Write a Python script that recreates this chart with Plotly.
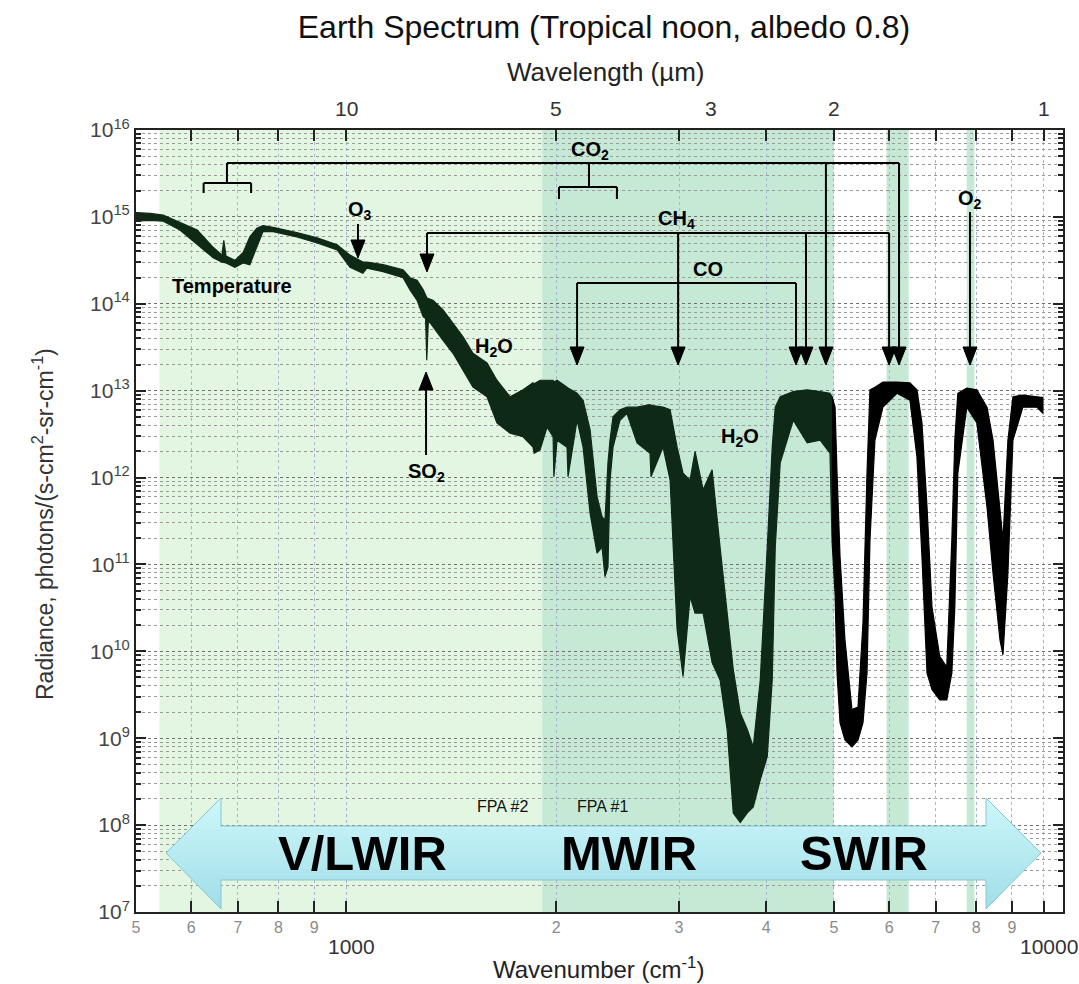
import numpy as np
import plotly.graph_objects as go

# ---------------------------------------------------------------------------
# Radiance trace, stored as an envelope (upper / lower edge of the dense
# line-by-line spectrum), log10 of photons/(s cm^2 sr cm^-1)
# ---------------------------------------------------------------------------
wavenumber = [
    500, 524, 547, 578, 612, 645, 664, 668, 673, 693, 712, 728, 745, 760, 786,
    850, 909, 971, 1013, 1057, 1071, 1130, 1207, 1235, 1264, 1290, 1300, 1305,
    1312, 1332, 1377, 1423, 1471, 1520, 1592, 1645, 1718, 1793, 1853, 1860,
    1897, 1941, 1980, 1985, 2006, 2073, 2080, 2143, 2186, 2237, 2289, 2327,
    2350, 2373, 2389, 2413, 2469, 2526, 2612, 2726, 2735, 2846, 2913, 2981,
    3040, 3111, 3163, 3248, 3346, 3435, 3516, 3588, 3672, 3758, 3833, 3922,
    4014, 4080, 4121, 4189, 4373, 4579, 4779, 4937, 4970,
    5020, 5053, 5103, 5187, 5308, 5415, 5505, 5578, 5633, 5726, 5879, 6158,
    6427, 6577, 6687, 6800, 6912, 7092, 7258, 7380, 7453, 7527, 7754, 8014,
    8288, 8454, 8651, 8737, 8880, 9028, 9330, 9770, 9966,
]
upper_log10 = [
    15.05, 15.04, 15.02, 14.94, 14.85, 14.65, 14.56, 14.73, 14.55, 14.50, 14.59,
    14.77, 14.87, 14.90, 14.88, 14.82, 14.76, 14.68, 14.56, 14.48, 14.48, 14.45,
    14.39, 14.30, 14.27, 14.16, 14.10, 14.07, 14.06, 14.04, 13.93, 13.78, 13.62,
    13.43, 13.32, 13.12, 12.93, 13.01, 13.09, 13.08, 13.12, 13.12, 13.12, 13.10,
    13.12, 13.04, 13.03, 12.97, 12.89, 12.55, 11.78, 11.55, 11.51, 12.17, 12.43,
    12.70, 12.78, 12.81, 12.81, 12.84, 12.83, 12.81, 12.78, 12.35, 12.05, 11.97,
    12.30, 11.86, 12.09, 11.20, 10.44, 9.79, 9.29, 9.10, 8.90, 9.67, 11.20,
    12.35, 12.81, 12.93, 12.99, 13.01, 12.99, 12.97, 12.93,
    12.81, 12.05, 11.09, 10.13, 9.33, 9.36, 10.33, 12.05, 13.01, 13.04, 13.10,
    13.10, 13.09, 13.01, 12.63, 11.66, 10.51, 9.94, 9.82, 11.28, 12.43, 12.97,
    13.03, 13.01, 12.81, 12.43, 11.66, 11.28, 12.43, 12.93, 12.95, 12.93, 12.92,
]
lower_log10 = [
    14.95, 14.96, 14.95, 14.85, 14.68, 14.53, 14.48, 14.48, 14.47, 14.42, 14.47,
    14.45, 14.65, 14.83, 14.83, 14.77, 14.70, 14.62, 14.42, 14.35, 14.41, 14.37,
    14.30, 14.16, 14.04, 13.85, 13.83, 13.35, 13.81, 13.73, 13.58, 13.43, 13.24,
    13.04, 12.93, 12.63, 12.51, 12.47, 12.35, 12.28, 12.32, 12.58, 12.47, 12.01,
    12.43, 12.35, 12.01, 12.66, 12.35, 11.59, 11.13, 11.20, 10.86, 10.97, 11.97,
    12.35, 12.66, 12.74, 12.40, 12.28, 12.01, 12.35, 11.97, 10.25, 9.71, 10.63,
    10.44, 10.44, 9.87, 9.67, 9.10, 8.14, 8.03, 8.14, 8.21, 8.52, 8.79,
    9.67, 11.20, 12.17, 12.66, 12.40, 12.43, 12.28, 11.28,
    10.67, 9.75, 9.18, 8.98, 8.90, 8.98, 9.18, 9.75, 11.28, 12.43, 12.81,
    12.97, 12.89, 12.24, 11.09, 9.75, 9.56, 9.44, 9.44, 9.75, 10.51, 12.05,
    12.81, 12.63, 11.66, 10.90, 10.13, 9.96, 10.90, 12.43, 12.81, 12.81, 12.74,
]

# trace is drawn dark green inside the infrared FPA bands, black beyond
colour_switch_wn = 4970

# shaded detector bands (cm^-1)
band_lwir = (540, 1910)
band_mwir = (1910, 5000)
band_swir_a = (5950, 6400)
band_swir_b = (7750, 7950)

# axis ticks
x_tick_vals = [500, 600, 700, 800, 900, 2000, 3000, 4000, 5000,
               6000, 7000, 8000, 9000]
x_tick_text = ["5", "6", "7", "8", "9", "2", "3", "4", "5",
               "6", "7", "8", "9"]
x_decade_labels = [1000, 10000]
wavelength_ticks_um = [10, 5, 3, 2, 1]
y_exponents = list(range(7, 17))

# ---------------------------------------------------------------------------
W, H = 1079, 984
M_L, M_R, M_T, M_B = 136, 16, 130, 72
PLOT_W, PLOT_H = W - M_L - M_R, H - M_T - M_B
X_LO, X_HI = np.log10(500), np.log10(10650)


def px_x(px):
    """canvas column -> paper x"""
    return (px - M_L) / PLOT_W


def px_y(py):
    """canvas row -> paper y"""
    return (H - M_B - py) / PLOT_H


def wn_paper(w):
    """wavenumber -> paper x on the log axis"""
    return (np.log10(w) - X_LO) / (X_HI - X_LO)


FONT = "Arial, Liberation Sans, Helvetica, sans-serif"
DARK_GREEN = "#0e2a17"

fig = go.Figure()


def add_envelope(idx, colour):
    xs = [wavenumber[i] for i in idx]
    up = [10 ** upper_log10[i] for i in idx]
    lo = [10 ** lower_log10[i] for i in idx]
    fig.add_trace(go.Scatter(
        x=xs + xs[::-1], y=up + lo[::-1], mode="lines", fill="toself",
        fillcolor=colour, line=dict(color=colour, width=1.2),
        hoverinfo="skip", showlegend=False))


ir_idx = [i for i, w in enumerate(wavenumber) if w <= colour_switch_wn]
sw_idx = [i for i, w in enumerate(wavenumber) if w >= colour_switch_wn]
add_envelope(ir_idx, DARK_GREEN)
add_envelope(sw_idx, "#000000")

shapes = []
# detector band shading
for (a, b), col in [(band_lwir, "#e3f6e1"), (band_mwir, "#c5e9d5"),
                    (band_swir_a, "#c5e9d5"), (band_swir_b, "#c5e9d5")]:
    shapes.append(dict(type="rect", xref="x", yref="paper", x0=a, x1=b,
                       y0=0, y1=1, fillcolor=col, line=dict(width=0),
                       layer="below"))


def hline(w0, w1, row):
    shapes.append(dict(type="line", xref="x", yref="paper", x0=w0, x1=w1,
                       y0=px_y(row), y1=px_y(row),
                       line=dict(color="black", width=2)))


def vline(w, row0, row1):
    shapes.append(dict(type="line", xref="x", yref="paper", x0=w, x1=w,
                       y0=px_y(row0), y1=px_y(row1),
                       line=dict(color="black", width=2)))


HEAD_LEN, HEAD_HALF = 18, 7


def arrow(w, row_from, row_tip):
    """vertical arrow with a solid triangular head"""
    sgn = 1 if row_tip > row_from else -1
    base = row_tip - sgn * HEAD_LEN
    vline(w, row_from, base)
    cx = wn_paper(w)
    dx = HEAD_HALF / PLOT_W
    shapes.append(dict(
        type="path", xref="paper", yref="paper",
        path=(f"M{cx - dx},{px_y(base)} L{cx + dx},{px_y(base)} "
              f"L{cx},{px_y(row_tip)} Z"),
        fillcolor="black", line=dict(color="black", width=1)))


annotations = []


def label(text, w, row, size=20, bold=True, colour="black"):
    t = f"<b>{text}</b>" if bold else text
    annotations.append(dict(
        x=np.log10(w), y=px_y(row), xref="x", yref="paper", text=t,
        showarrow=False, font=dict(size=size, color=colour, family=FONT),
        xanchor="center", yanchor="middle"))


def paper_text(text, cx, row, size, colour="black", **kw):
    annotations.append(dict(
        x=px_x(cx), y=px_y(row), xref="paper", yref="paper", text=text,
        showarrow=False, xanchor="center", yanchor="middle",
        font=dict(size=size, color=colour, family=FONT), **kw))


# CO2: 15 um and 4.3 um bands plus the 2.0 / 1.6 um features
hline(675, 6200, 163)
vline(675, 163, 183)
hline(625, 731, 183)
vline(625, 183, 193)
vline(731, 183, 193)
vline(2229, 163, 187)
hline(2019, 2444, 187)
vline(2019, 187, 199)
vline(2444, 187, 199)
arrow(4871, 163, 365)
arrow(6200, 163, 365)
label("CO<sub>2</sub>", 2237, 150)

# CH4
hline(1306, 6000, 233)
arrow(1306, 233, 272)
arrow(2991, 233, 365)
arrow(4561, 233, 365)
arrow(6000, 233, 365)
label("CH<sub>4</sub>", 2972, 219)

# CO
hline(2143, 4413, 283)
arrow(2143, 283, 365)
arrow(4413, 283, 365)
label("CO", 3300, 269)

# O2, O3, SO2
arrow(7835, 212, 365)
label("O<sub>2</sub>", 7835, 199)
arrow(1040, 224, 258)
label("O<sub>3</sub>", 1047, 211)
arrow(1302, 455, 372)
label("SO<sub>2</sub>", 1302, 472)

label("Temperature", 686, 286)
label("H<sub>2</sub>O", 1630, 347)
label("H<sub>2</sub>O", 3671, 437)

# ---------------------------------------------------------------------------
# double-headed band arrow along the bottom, shaded top-to-bottom
# (outline in canvas pixels: tips, head corners and shaft edges)
# ---------------------------------------------------------------------------
TIP_L, HEAD_L, HEAD_R, TIP_R = 166, 221, 986, 1041
ROW_TOP, ROW_SHAFT_T, ROW_MID, ROW_SHAFT_B, ROW_BOT = 798, 826, 853, 880, 909
outline = [(TIP_L, ROW_MID), (HEAD_L, ROW_TOP), (HEAD_L, ROW_SHAFT_T),
           (HEAD_R, ROW_SHAFT_T), (HEAD_R, ROW_TOP), (TIP_R, ROW_MID),
           (HEAD_R, ROW_BOT), (HEAD_R, ROW_SHAFT_B), (HEAD_L, ROW_SHAFT_B),
           (HEAD_L, ROW_BOT)]


def clip_rows(poly, r0, r1):
    """keep the part of a polygon lying between two canvas rows"""
    def clip(pts, keep, cross):
        out = []
        for i in range(len(pts)):
            p, q = pts[i - 1], pts[i]
            kp, kq = keep(p), keep(q)
            if kq:
                if not kp:
                    out.append(cross(p, q))
                out.append(q)
            elif kp:
                out.append(cross(p, q))
        return out

    def at_row(r):
        def f(p, q):
            t = (r - p[1]) / (q[1] - p[1])
            return (p[0] + t * (q[0] - p[0]), r)
        return f

    pts = clip(poly, lambda p: p[1] >= r0, at_row(r0))
    if pts:
        pts = clip(pts, lambda p: p[1] <= r1, at_row(r1))
    return pts


def poly_path(pts):
    return "M" + " L".join(f"{px_x(x)},{px_y(y)}" for x, y in pts) + " Z"


top_rgb, bot_rgb = np.array([206, 247, 250]), np.array([160, 222, 232])
n_strips = 14
edges = np.linspace(ROW_TOP, ROW_BOT, n_strips + 1)
for k in range(n_strips):
    t = (k + 0.5) / n_strips
    r, g, b = (top_rgb + t * (bot_rgb - top_rgb)).round().astype(int)
    piece = clip_rows(outline, edges[k] - 0.6, edges[k + 1] + 0.6)
    if len(piece) >= 3:
        shapes.append(dict(type="path", xref="paper", yref="paper",
                           path=poly_path(piece),
                           fillcolor=f"rgb({r},{g},{b})",
                           line=dict(width=0), layer="above"))
shapes.append(dict(type="path", xref="paper", yref="paper",
                   path=poly_path(outline), fillcolor="rgba(0,0,0,0)",
                   line=dict(color="#86c6d2", width=1), layer="above"))

for txt, cx in [("V/LWIR", 362), ("MWIR", 629), ("SWIR", 864)]:
    paper_text(f"<b>{txt}</b>", cx, 853, 49)
for txt, cx in [("FPA #2", 502), ("FPA #1", 602)]:
    paper_text(txt, cx, 806, 16, "#111")

# decade labels on the wavenumber axis
for w in x_decade_labels:
    annotations.append(dict(
        x=np.log10(w), y=px_y(946), xref="x", yref="paper", text=str(w),
        showarrow=False, xanchor="center", yanchor="middle", xshift=5,
        font=dict(size=21, color="#333", family=FONT)))

# wavelength scale along the top edge
for um in wavelength_ticks_um:
    annotations.append(dict(
        x=np.log10(1e4 / um), y=px_y(108), xref="x", yref="paper",
        text=str(um), showarrow=False, xanchor="center", yanchor="middle",
        font=dict(size=21, color="#333", family=FONT)))

# axis titles
paper_text("Wavelength (\u00b5m)", 606, 72, 26, "#222")
paper_text("Wavenumber (cm<sup>-1</sup>)", 598, 968, 24, "#222")
paper_text("Radiance, photons/(s-cm<sup>2</sup>-sr-cm<sup>-1</sup>)",
           43, 524, 23, "#333", textangle=-90)

y_minor = [m * 10 ** e for e in range(7, 16) for m in range(2, 10)]

fig.update_layout(
    width=W, height=H,
    margin=dict(l=M_L, r=M_R, t=M_T, b=M_B),
    paper_bgcolor="white", plot_bgcolor="white",
    showlegend=False,
    font=dict(family=FONT),
    title=dict(text="Earth Spectrum (Tropical noon, albedo 0.8)",
               x=px_x(604), xref="paper", xanchor="center",
               y=1 - 27 / H, yref="container", yanchor="middle",
               font=dict(size=32, color="#111", family=FONT)),
    xaxis=dict(
        type="log", range=[X_LO, X_HI],
        tickmode="array", tickvals=x_tick_vals, ticktext=x_tick_text,
        ticks="inside", ticklen=11, tickwidth=1.5, tickcolor="#222",
        tickfont=dict(size=16, color="#8a8a8a"),
        showline=True, linecolor="#222", linewidth=2, mirror="allticks",
        showgrid=True, gridcolor="#a9b3d6", griddash="dot", gridwidth=1,
        minor=dict(tickmode="array", tickvals=x_decade_labels,
                   ticks="inside", ticklen=11, tickwidth=1.5,
                   tickcolor="#222", showgrid=True, gridcolor="#a9b3d6",
                   griddash="dot", gridwidth=1),
        zeroline=False),
    yaxis=dict(
        type="log", range=[7, 16],
        tickmode="array", tickvals=[10 ** e for e in y_exponents],
        ticktext=[f"10<sup>{e}</sup>" for e in y_exponents],
        ticks="inside", ticklen=10, tickwidth=1.5, tickcolor="#222",
        tickfont=dict(size=21, color="#444"),
        showline=True, linecolor="#222", linewidth=2, mirror="allticks",
        showgrid=True, gridcolor="#6f6f6f", griddash="dot", gridwidth=1,
        minor=dict(tickmode="array", tickvals=y_minor, ticks="inside",
                   ticklen=5, tickcolor="#222", showgrid=True,
                   gridcolor="#9a9a9a", griddash="dot", gridwidth=1),
        zeroline=False),
    shapes=shapes,
    annotations=annotations,
)

fig.write_html("out.html")
